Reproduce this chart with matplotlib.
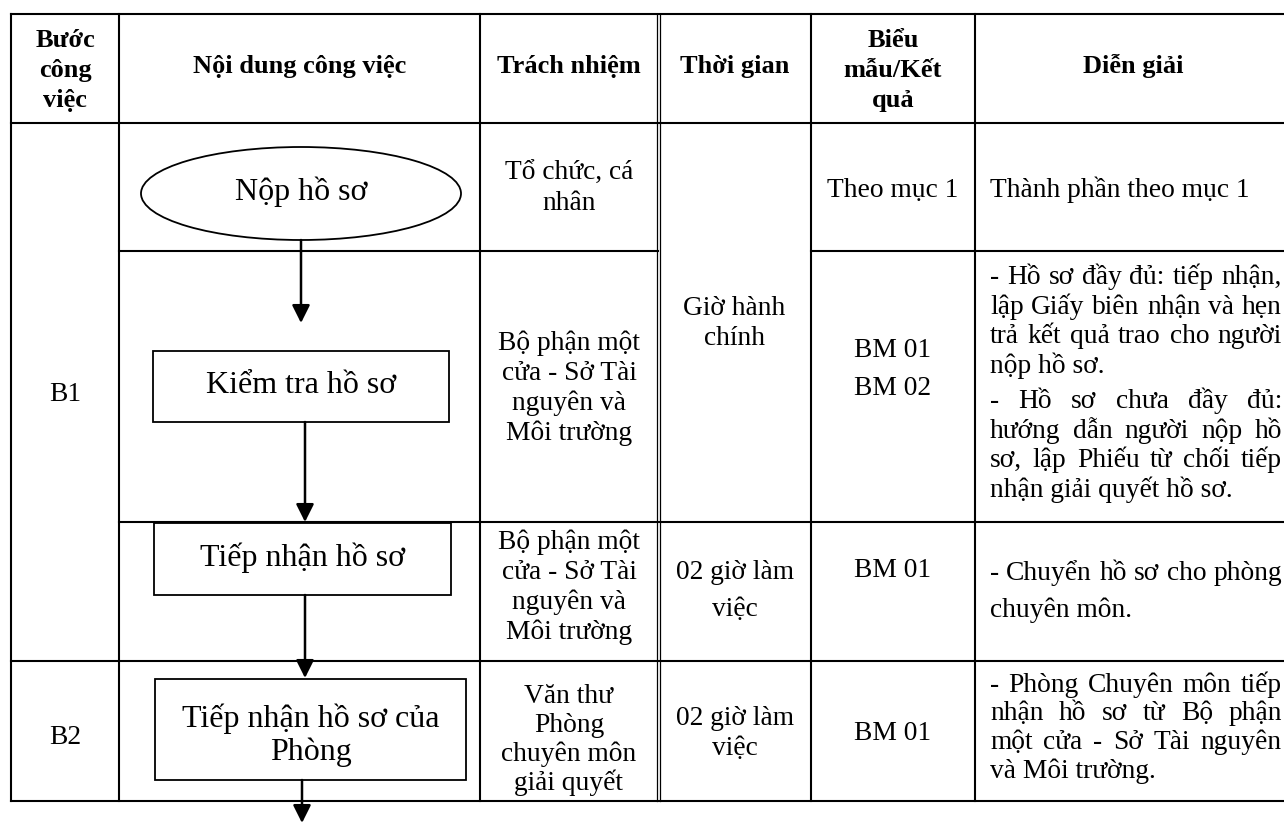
import matplotlib
matplotlib.use('Agg')
import matplotlib.pyplot as plt
from matplotlib.patches import Ellipse, Rectangle

plt.rcParams['font.family'] = ['Liberation Serif', 'DejaVu Serif']

# table content
header = ["Bước\ncông\nviệc", "Nội dung công việc", "Trách nhiệm", "Thời gian",
          "Biểu\nmẫu/Kết\nquả", "Diễn giải"]
steps = ["B1", "B2"]
flow_steps = ["Nộp hồ sơ", "Kiểm tra hồ sơ", "Tiếp nhận hồ sơ", "Tiếp nhận hồ sơ của\nPhòng"]
responsible = ["Tổ chức, cá\nnhân",
               "Bộ phận một\ncửa - Sở Tài\nnguyên và\nMôi trường",
               "Bộ phận một\ncửa - Sở Tài\nnguyên và\nMôi trường",
               "Văn thư\nPhòng\nchuyên môn\ngiải quyết"]
durations = ["Giờ hành\nchính", "02 giờ làm\nviệc", "02 giờ làm\nviệc"]
forms = ["Theo mục 1", "BM 01\nBM 02", "BM 01", "BM 01"]
notes = [
    [["Thành phần theo mục 1"]],
    [["- Hồ sơ đầy đủ: tiếp nhận,", "lập Giấy biên nhận và hẹn",
      "trả kết quả trao cho người", "nộp hồ sơ."],
     ["- Hồ sơ chưa đầy đủ:", "hướng dẫn người nộp hồ",
      "sơ, lập Phiếu từ chối tiếp", "nhận giải quyết hồ sơ."]],
    [["- Chuyển hồ sơ cho phòng", "chuyên môn."]],
    [["- Phòng Chuyên môn tiếp", "nhận hồ sơ từ Bộ phận",
      "một cửa - Sở Tài nguyên", "và Môi trường."]],
]

W, H = 1284, 823
fig = plt.figure(figsize=(W / 100, H / 100), dpi=100)
ax = fig.add_axes([0, 0, 1, 1])
ax.set_xlim(0, W)
ax.set_ylim(H, 0)
ax.axis('off')
renderer = fig.canvas.get_renderer()

BODY = 19.8
FLOW = 23
HEAD = 19

# grid
col_x = [11, 119, 480, 811, 975]
h_lines = [(14, 11, W), (123, 11, W), (251, 119, 658), (251, 811, W),
           (522, 119, W), (661, 11, W), (801, 11, W)]
for y, xa, xb in h_lines:
    ax.plot([xa, xb], [y, y], color='black', lw=1.5, solid_capstyle='projecting')
for x in col_x:
    ax.plot([x, x], [14, 801], color='black', lw=1.5, solid_capstyle='projecting')
# the time column border is a thin double rule
for x in (656.5, 659.5):
    ax.plot([x, x], [14, 801], color='black', lw=0.9)


def put_lines(text, x, y0, pitch=30, size=BODY, weight='normal', ha='center'):
    for i, line in enumerate(text.split('\n')):
        ax.text(x, y0 + i * pitch, line, ha=ha, va='baseline', fontsize=size,
                fontweight=weight)


def justify(line, x0, x1, y, size=BODY):
    words = line.split(' ')
    items = [ax.text(0, y, w, ha='left', va='baseline', fontsize=size) for w in words]
    widths = [t.get_window_extent(renderer).width for t in items]
    gap = (x1 - x0 - sum(widths)) / max(len(words) - 1, 1)
    gap = max(gap, 4)
    x = x0
    for t, w in zip(items, widths):
        t.set_x(x)
        x += w + gap


def put_note(paras, y0, pitch, para_gap=0, x0=990, x1=1282):
    y = y0
    for para in paras:
        for j, line in enumerate(para):
            if j < len(para) - 1:
                justify(line, x0, x1, y)
            else:
                ax.text(x0, y, line, ha='left', va='baseline', fontsize=BODY)
            y += pitch
        y += para_gap


# header
put_lines(header[0], 65, 47, 30, HEAD, 'bold')
put_lines(header[1], 300, 73, size=HEAD, weight='bold')
put_lines(header[2], 569, 73, size=HEAD, weight='bold')
put_lines(header[3], 734.5, 73, size=HEAD, weight='bold')
put_lines(header[4], 893, 47, 30, HEAD, 'bold')
put_lines(header[5], 1133, 73, size=HEAD, weight='bold')

# step column
put_lines(steps[0], 65, 401)
put_lines(steps[1], 65, 744)

# flowchart shapes
ax.add_patch(Ellipse((301, 193.5), 320, 93, fill=False, lw=1.3, ec='black'))
for (xa, xb, ya, yb) in [(153, 449, 351, 422), (154, 451, 523, 595), (155, 466, 679, 780)]:
    ax.add_patch(Rectangle((xa, ya), xb - xa, yb - ya, fill=False, lw=1.3, ec='black'))
for (x, ya, yb) in [(301, 240, 323), (305, 422, 522), (305, 595, 678), (302, 780, 823)]:
    ax.annotate('', xy=(x, yb), xytext=(x, ya),
                arrowprops=dict(arrowstyle='-|>', mutation_scale=27, lw=1.8,
                                color='black', shrinkA=0, shrinkB=0))

put_lines(flow_steps[0], 301, 200, size=FLOW)
put_lines(flow_steps[1], 301, 393, size=FLOW)
put_lines(flow_steps[2], 302, 566, size=FLOW)
put_lines(flow_steps[3], 311, 727, 33, size=FLOW)

# responsibility
put_lines(responsible[0], 569, 180, 30)
put_lines(responsible[1], 569, 350, 30)
put_lines(responsible[2], 569, 549, 30)
put_lines(responsible[3], 569, 703, 29)

# time
put_lines(durations[0], 734.5, 315, 30)
put_lines(durations[1], 734.5, 579, 37)
put_lines(durations[2], 734.5, 725, 30)

# forms
put_lines(forms[0], 893, 197)
put_lines(forms[1], 893, 357, 38)
put_lines(forms[2], 893, 577)
put_lines(forms[3], 893, 740)

# notes
put_note(notes[0], 197, 30)
put_note(notes[1], 284, 29.5, 6)
put_note(notes[2], 580, 37)
put_note(notes[3], 692, 28.5)

fig.savefig('out.png', dpi=100)
